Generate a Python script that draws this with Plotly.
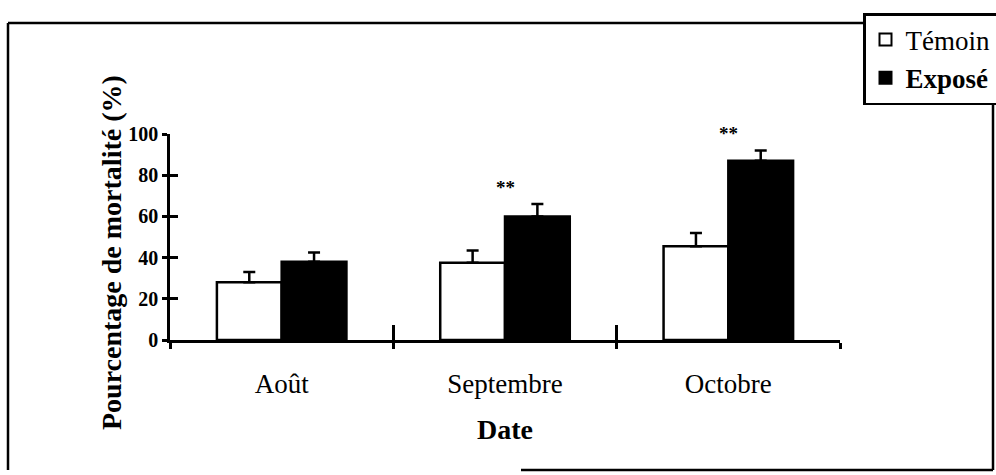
import plotly.graph_objects as go

# Mortality (%) per month, control vs exposed, with standard error (upper only)
mois = ["Août", "Septembre", "Octobre"]
temoin = [28, 37.5, 45.5]
temoin_err = [5, 6, 6.5]
expose = [38, 60, 87]
expose_err = [4.5, 6, 5]
signif_expose = ["", "**", "**"]
yticks = [0, 20, 40, 60, 80, 100]

SERIF = "Liberation Serif"
W, H = 996, 475
ML, MR, MT, MB = 170, 156, 134, 135
PW, PH = W - ML - MR, H - MT - MB


def px(x):
    return (x - ML) / PW


def py(y):
    return (H - MB - y) / PH


fig = go.Figure()
fig.add_trace(go.Bar(
    name="Témoin", x=mois, y=temoin,
    marker=dict(color="white", line=dict(color="black", width=2.5)),
    error_y=dict(type="data", symmetric=False, array=temoin_err,
                 arrayminus=[0] * len(temoin), color="black",
                 thickness=2.5, width=6),
))
fig.add_trace(go.Bar(
    name="<b>Exposé</b>", x=mois, y=expose,
    marker=dict(color="black", line=dict(color="black", width=2.5)),
    error_y=dict(type="data", symmetric=False, array=expose_err,
                 arrayminus=[0] * len(expose), color="black",
                 thickness=2.5, width=6),
))
# invisible carrier so the overlaid axes (inner tick halves) are drawn
fig.add_trace(go.Scatter(
    x=mois, y=temoin, xaxis="x2", yaxis="y2", mode="markers",
    marker=dict(opacity=0), showlegend=False, hoverinfo="skip",
))

# significance stars above exposed bars
for m, v, e, s in zip(mois, expose, expose_err, signif_expose):
    if s:
        fig.add_annotation(x=m, y=v + e, text="<b>" + s + "</b>",
                           yshift=17, showarrow=False,
                           font=dict(family=SERIF, size=19, color="black"))

# y-axis title
fig.add_annotation(xref="paper", yref="paper", x=px(111), y=py(253),
                   xanchor="center", yanchor="middle",
                   text="<b>Pourcentage de mortalité (%)</b>", textangle=-90,
                   showarrow=False,
                   font=dict(family=SERIF, size=28, color="black"))

# outer frame
frame = dict(color="black", width=2.5)
x0, x1, y0, y1 = px(8), px(993), py(23), py(470)
for a in [(x0, y0, x0, y1), (x0, y0, x1, y0), (x1, y0, x1, y1),
          (px(521), y1, x1, y1)]:
    fig.add_shape(type="line", xref="paper", yref="paper",
                  x0=a[0], y0=a[1], x1=a[2], y1=a[3], line=frame)

fig.update_layout(
    width=W, height=H,
    margin=dict(l=ML, r=MR, t=MT, b=MB, autoexpand=False),
    paper_bgcolor="white", plot_bgcolor="white",
    barmode="group", bargap=0.42, bargroupgap=0,
    font=dict(family=SERIF, color="black"),
    showlegend=True,
    legend=dict(x=px(863), y=py(13), xanchor="left", yanchor="top",
                bgcolor="white", bordercolor="black", borderwidth=2.5,
                font=dict(family=SERIF, size=27, color="black"),
                itemsizing="constant", traceorder="normal"),
    xaxis=dict(type="category", categoryarray=mois, range=[-0.5, 2.5],
               showline=True, linecolor="black", linewidth=2.5,
               tickson="boundaries", ticks="outside", ticklen=6,
               tickwidth=2.5, tickcolor="black",
               showgrid=False, zeroline=False, ticklabelstandoff=18,
               tickfont=dict(family=SERIF, size=27),
               title=dict(text="<b>Date</b>", font=dict(family=SERIF, size=28),
                          standoff=22)),
    xaxis2=dict(type="category", categoryarray=mois, range=[-0.5, 2.5],
                overlaying="x", side="bottom",
                tickson="boundaries", ticks="inside", ticklen=15,
                tickwidth=2.5, tickcolor="black",
                showticklabels=False, showgrid=False, zeroline=False),
    yaxis=dict(range=[0, 100], tickvals=yticks,
               showline=True, linecolor="black", linewidth=2.5,
               ticks="outside", ticklen=5, tickwidth=2.5, tickcolor="black",
               showgrid=False, zeroline=False,
               tickfont=dict(family=SERIF, size=20, weight="bold")),
    yaxis2=dict(range=[0, 100], tickvals=yticks,
                overlaying="y", side="left",
                ticks="inside", ticklen=8, tickwidth=2.5, tickcolor="black",
                showticklabels=False, showgrid=False, zeroline=False),
)

fig.write_html("out.html")
